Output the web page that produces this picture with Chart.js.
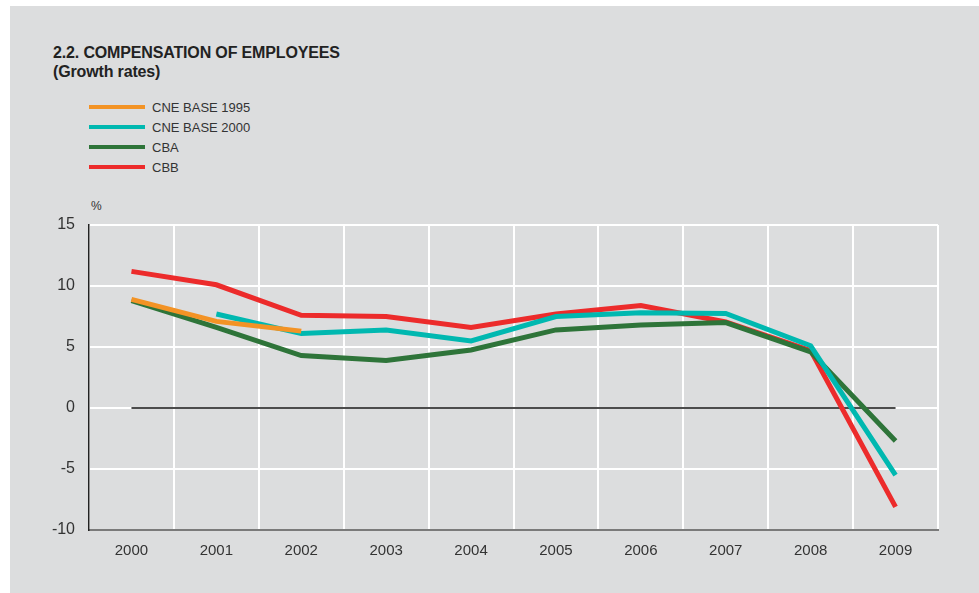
<!DOCTYPE html>
<html>
<head>
  <title>Compensation of employees</title>
  <script src="https://cdn.jsdelivr.net/npm/chart.js"></script>
  <style>
    body {
      margin: 0;
      background: #ffffff;
      font-family: "Liberation Sans", Arial, sans-serif;
    }

    #panel {
      position: absolute;
      left: 10px;
      top: 6px;
      width: 969px;
      height: 587px;
      background: #dcddde;
    }

    #titre {
      position: absolute;
      left: 53px;
      top: 43px;
      font-size: 16px;
      font-weight: bold;
      color: #222;
      line-height: 19px;
      letter-spacing: -0.15px;
    }

    #legende {
      position: absolute;
      left: 89px;
      top: 97px;
      font-size: 13px;
      color: #333;
    }

    #legende div {
      height: 20px;
      display: flex;
      align-items: center;
    }

    #legende span.trait {
      display: inline-block;
      width: 56px;
      height: 4px;
      margin-right: 7px;
    }

    #unite {
      position: absolute;
      left: 91px;
      top: 199px;
      font-size: 12px;
      color: #333;
    }

    #graphique {
      position: absolute;
      left: 0;
      top: 0;
    }
  </style>
</head>
<body>
  <div id="panel"></div>
  <div id="titre">2.2. COMPENSATION OF EMPLOYEES<br>(Growth rates)</div>
  <div id="legende"></div>
  <div id="unite">%</div>
  <canvas id="graphique" width="979" height="593"></canvas>

  <script>
    // Données
    const annees = ["2000", "2001", "2002", "2003", "2004", "2005", "2006", "2007", "2008", "2009"];
    const cneBase1995 = [8.9, 7.1, 6.3, null, null, null, null, null, null, null];
    const cneBase2000 = [null, 7.7, 6.1, 6.4, 5.5, 7.5, 7.8, 7.75, 5.1, -5.5];
    const cba = [8.8, 6.6, 4.3, 3.9, 4.75, 6.4, 6.8, 7.0, 4.6, -2.7];
    const cbb = [11.2, 10.1, 7.6, 7.5, 6.6, 7.7, 8.4, 7.05, 4.7, -8.1];
    const ligneZero = [0, 0, 0, 0, 0, 0, 0, 0, 0, 0];
    const ticksY = [-10, -5, 0, 5, 10, 15];

    const series = [
      { label: "CNE BASE 1995", data: cneBase1995, couleur: "#f39325" },
      { label: "CNE BASE 2000", data: cneBase2000, couleur: "#00b8b0" },
      { label: "CBA", data: cba, couleur: "#2e7439" },
      { label: "CBB", data: cbb, couleur: "#ec2b2b" }
    ];

    // Légende en HTML
    const legende = document.getElementById("legende");
    series.forEach(s => {
      const ligne = document.createElement("div");
      ligne.innerHTML = `<span class="trait" style="background:${s.couleur}"></span>${s.label}`;
      legende.appendChild(ligne);
    });

    const datasets = series.map(s => ({
      label: s.label,
      data: s.data,
      borderColor: s.couleur,
      backgroundColor: s.couleur,
      borderWidth: 5,
      pointRadius: 0,
      tension: 0,
      spanGaps: false
    }));
    // ligne du zéro, dessinée sous les courbes
    datasets.unshift({
      label: "zero",
      data: ligneZero,
      borderColor: "#111",
      borderWidth: 1.3,
      pointRadius: 0,
      order: 10
    });

    const graphique = document.getElementById("graphique").getContext("2d");
    new Chart(graphique, {
      type: "line",
      data: { labels: annees, datasets: datasets },
      options: {
        responsive: false,
        animation: false,
        layout: { padding: { left: 30, right: 41, top: 225, bottom: 30 } },
        plugins: {
          legend: { display: false },
          tooltip: { enabled: false }
        },
        scales: {
          x: {
            offset: true,
            grid: { offset: true, color: "#ffffff", lineWidth: 2, drawTicks: false },
            border: { color: "#7a7a7a", width: 2 },
            ticks: { color: "#333", font: { family: "Liberation Sans", size: 15 }, padding: 12 },
            afterFit: scale => { scale.height = 33; }
          },
          y: {
            min: -10,
            max: 15,
            afterBuildTicks: scale => { scale.ticks = ticksY.map(v => ({ value: v })); },
            grid: { color: "#ffffff", lineWidth: 2, drawTicks: false },
            border: { color: "#222", width: 1.5 },
            ticks: { color: "#333", font: { family: "Liberation Sans", size: 16 }, padding: 14 },
            afterFit: scale => { scale.width = 59; }
          }
        }
      }
    });
  </script>
</body>
</html>
